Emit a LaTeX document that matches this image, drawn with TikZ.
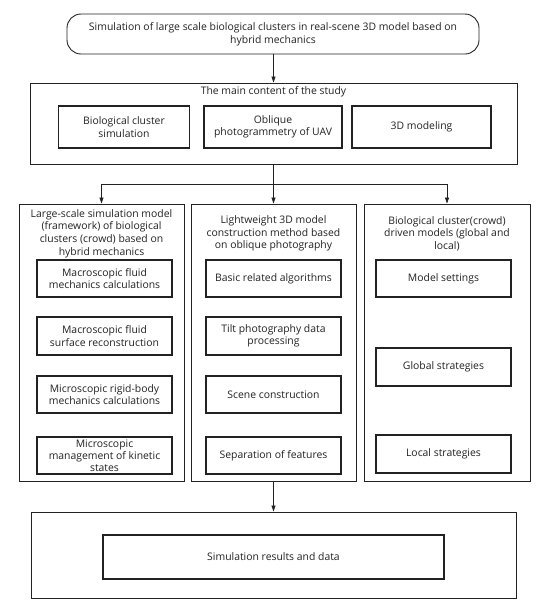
\documentclass[tikz,border=0pt]{standalone}
\usepackage{fontspec}
\setmainfont{Open Sans}
\usetikzlibrary{arrows.meta,positioning}
\definecolor{ink}{HTML}{222222}
\tikzset{
  outerbox/.style={draw=ink, line width=0.9pt, rectangle, inner sep=0pt},
  innerbox/.style={draw=ink, line width=1.1pt, rectangle, align=center, inner sep=1pt, font=\fontsize{10.4}{12.3}\selectfont, text=ink},
  titletext/.style={align=center, inner sep=0pt, font=\fontsize{10.4}{12.6}\selectfont, text=ink},
  conn/.style={draw=ink, line width=0.7pt},
  arr/.style={conn, -{Triangle[length=6pt,width=4pt]}}
}
\begin{document}
\begin{tikzpicture}[x=1pt,y=-1pt]
\useasboundingbox[fill=white] (0,0) rectangle (550,611);
% top rounded box
\node[innerbox, line width=0.9pt, rounded corners=14pt, minimum width=412pt, minimum height=40pt, font=\fontsize{10.4}{13}\selectfont] (top) at (273,34)
  {Simulation of large scale biological clusters in real-scene 3D model based on\\ hybrid mechanics};
% main content
\node[outerbox, minimum width=487pt, minimum height=81pt] (main) at (273.5,123.5) {};
\node[titletext] (maint) at (273.5,91.5) {The main content of the study};
\node[innerbox, minimum width=131pt, minimum height=42pt] (m1) at (124,127) {Biological cluster\\ simulation};
\node[innerbox, minimum width=138pt, minimum height=42pt] (m2) at (273,127) {Oblique\\ photogrammetry of UAV};
\node[innerbox, minimum width=139pt, minimum height=42pt] (m3) at (421.5,127) {3D modeling};
% columns
\node[outerbox, minimum width=165pt, minimum height=277pt] (colL) at (101.5,342.5) {};
\node[outerbox, minimum width=165pt, minimum height=277pt] (colM) at (273.5,342.5) {};
\node[outerbox, minimum width=166pt, minimum height=277pt] (colR) at (447,342.5) {};
\node[titletext] (tL) at (101.5,233.5) {Large-scale simulation model\\ (framework) of biological\\ clusters (crowd) based on\\ hybrid mechanics};
\node[titletext] (tM) at (273.5,233.5) {Lightweight 3D model\\ construction method based\\ on oblique photography};
\node[titletext] (tR) at (447,233.5) {Biological cluster(crowd)\\ driven models (global and\\ local)};
% left inner
\node[innerbox, minimum width=135pt, minimum height=37pt] (l1) at (104.5,278.5) {Macroscopic fluid\\ mechanics calculations};
\node[innerbox, minimum width=135pt, minimum height=38pt] (l2) at (104.5,336) {Macroscopic fluid\\ surface reconstruction};
\node[innerbox, minimum width=135pt, minimum height=37pt] (l3) at (104.5,394.5) {Microscopic rigid-body\\ mechanics calculations};
\node[innerbox, minimum width=135pt, minimum height=37pt, font=\fontsize{10.4}{12}\selectfont] (l4) at (104.5,455.5) {Microscopic\\ management of kinetic\\ states};
% middle inner
\node[innerbox, minimum width=135pt, minimum height=37pt] (c1) at (273.5,278.5) {Basic related algorithms};
\node[innerbox, minimum width=135pt, minimum height=38pt] (c2) at (273.5,336) {Tilt photography data\\ processing};
\node[innerbox, minimum width=135pt, minimum height=37pt] (c3) at (273.5,394.5) {Scene construction};
\node[innerbox, minimum width=135pt, minimum height=37pt] (c4) at (273.5,455.5) {Separation of features};
% right inner
\node[innerbox, minimum width=135pt, minimum height=37pt] (r1) at (443.5,278.5) {Model settings};
\node[innerbox, minimum width=135pt, minimum height=38pt] (r2) at (443.5,367) {Global strategies};
\node[innerbox, minimum width=135pt, minimum height=38pt] (r3) at (443.5,454) {Local strategies};
% bottom
\node[outerbox, minimum width=485pt, minimum height=86pt] (bot) at (273.5,555) {};
\node[innerbox, minimum width=341pt, minimum height=44pt] (res) at (273.5,557) {Simulation results and data};
% connectors
\draw[arr] (top.south -| main.north) -- (main.north);
\coordinate (j) at (273.5,184);
\draw[conn] (main.south) -- (j);
\draw[arr] (j) -| (colL.north);
\draw[arr] (j) -- (colM.north);
\draw[arr] (j) -| (colR.north);
\draw[arr] (colM.south) -- (bot.north);
\end{tikzpicture}
\end{document}
